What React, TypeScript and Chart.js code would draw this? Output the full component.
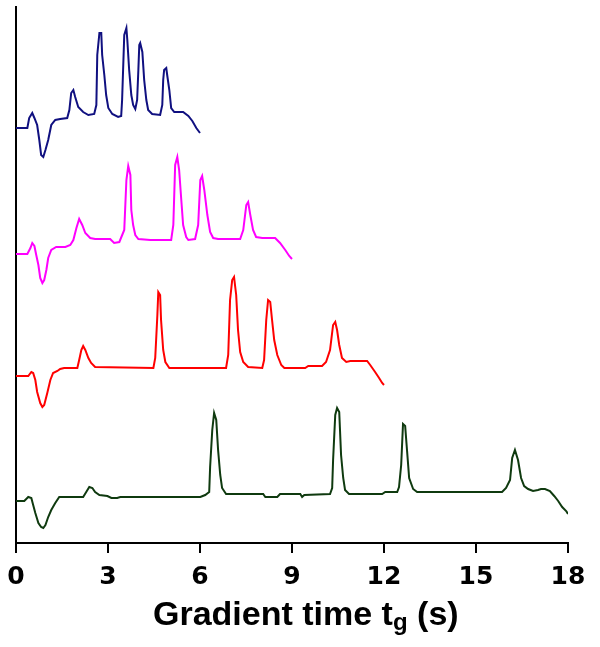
import React, { useEffect, useRef } from "react";
import { Chart, registerables } from "chart.js";

Chart.register(...registerables);

// Gradient time (s) and detector signal (arbitrary units, relative to each trace's baseline)
const timeA = [0, 0.37, 0.43, 0.53, 0.60, 0.69, 0.76, 0.82, 0.89, 0.96, 1.05, 1.15, 1.28, 1.44, 1.67, 1.74, 1.80, 1.87, 1.93, 2.03, 2.19, 2.36, 2.55, 2.62, 2.65, 2.72, 2.78, 2.81, 2.88, 2.94, 3.01, 3.14, 3.33, 3.43, 3.46, 3.53, 3.60, 3.63, 3.69, 3.76, 3.82, 3.89, 3.95, 3.99, 4.02, 4.05, 4.12, 4.18, 4.25, 4.31, 4.44, 4.70, 4.77, 4.80, 4.83, 4.90, 4.93, 5.00, 5.06, 5.16, 5.45, 5.62, 5.75, 5.88, 6.0];
const signalA = [0, 0, 10, 15, 10, 3, -12, -27, -29, -22, -12, 3, 8, 9, 10, 18, 35, 38, 31, 21, 16, 13, 14, 23, 73, 95, 95, 73, 53, 33, 20, 14, 11, 12, 28, 93, 100, 88, 58, 33, 23, 19, 28, 58, 83, 85, 76, 48, 28, 18, 14, 13, 23, 48, 58, 60, 53, 38, 20, 16, 16, 12, 7, 0, -5];

const timeB = [0, 0.37, 0.47, 0.53, 0.60, 0.66, 0.73, 0.79, 0.86, 0.92, 0.99, 1.05, 1.15, 1.31, 1.61, 1.77, 1.87, 1.97, 2.06, 2.16, 2.26, 2.42, 2.58, 3.07, 3.20, 3.37, 3.53, 3.60, 3.66, 3.73, 3.76, 3.82, 3.89, 3.99, 4.38, 5.06, 5.13, 5.19, 5.26, 5.32, 5.39, 5.45, 5.55, 5.62, 5.84, 5.94, 6.01, 6.07, 6.14, 6.24, 6.33, 6.43, 6.59, 7.31, 7.41, 7.51, 7.57, 7.64, 7.73, 7.83, 8.03, 8.45, 8.61, 8.78, 8.91, 9.0];
const signalB = [0, 0, 6, 11, 8, -1, -11, -24, -29, -26, -16, -4, 4, 7, 7, 9, 14, 26, 35, 29, 21, 16, 15, 15, 11, 12, 24, 74, 88, 79, 44, 29, 19, 15, 14, 14, 29, 89, 97, 84, 54, 29, 17, 14, 15, 29, 74, 78, 64, 39, 22, 16, 15, 15, 24, 49, 52, 39, 24, 17, 16, 16, 11, 4, -2, -5];

const timeC = [0, 0.40, 0.50, 0.56, 0.63, 0.69, 0.79, 0.86, 0.92, 1.02, 1.12, 1.21, 1.35, 1.44, 1.57, 2.00, 2.06, 2.13, 2.19, 2.26, 2.36, 2.45, 2.58, 4.48, 4.54, 4.61, 4.64, 4.70, 4.73, 4.80, 4.87, 5.00, 6.85, 6.92, 6.98, 7.05, 7.11, 7.18, 7.24, 7.31, 7.41, 7.57, 8.03, 8.09, 8.16, 8.22, 8.29, 8.35, 8.42, 8.52, 8.65, 8.75, 9.43, 9.53, 9.98, 10.11, 10.24, 10.34, 10.41, 10.47, 10.54, 10.63, 10.77, 10.90, 11.45, 11.55, 11.71, 11.84, 11.94, 12.0];
const signalC = [0, 0, 4, 3, -4, -16, -27, -31, -29, -17, -4, 3, 5, 7, 8, 8, 16, 26, 30, 26, 18, 13, 9, 8, 18, 61, 84, 81, 56, 26, 14, 8, 8, 21, 76, 96, 99, 81, 46, 24, 14, 9, 8, 16, 56, 76, 74, 56, 36, 21, 11, 8, 8, 10, 10, 14, 26, 51, 54, 46, 31, 18, 14, 15, 15, 11, 4, -2, -7, -9];

const timeD = [0, 0.27, 0.40, 0.50, 0.56, 0.63, 0.73, 0.82, 0.89, 0.96, 1.05, 1.15, 1.28, 1.41, 1.54, 2.19, 2.29, 2.39, 2.49, 2.58, 2.72, 2.98, 3.11, 3.30, 3.40, 6.01, 6.17, 6.30, 6.33, 6.40, 6.46, 6.53, 6.59, 6.66, 6.72, 6.85, 7.05, 8.06, 8.13, 8.52, 8.61, 9.27, 9.33, 9.40, 10.24, 10.31, 10.34, 10.41, 10.47, 10.54, 10.60, 10.67, 10.73, 10.86, 11.94, 12.04, 12.43, 12.49, 12.56, 12.62, 12.69, 12.75, 12.82, 12.95, 13.08, 15.85, 15.98, 16.11, 16.18, 16.27, 16.37, 16.47, 16.57, 16.70, 16.86, 17.02, 17.12, 17.25, 17.41, 17.55, 17.68, 17.81, 17.94, 18.0];
const signalD = [0, 0, 4, 3, -4, -12, -22, -26, -27, -24, -16, -9, -2, 4, 4, 4, 9, 14, 13, 9, 6, 5, 3, 3, 4, 4, 6, 9, 34, 71, 88, 81, 51, 26, 13, 7, 7, 7, 4, 4, 7, 7, 4, 6, 7, 13, 41, 86, 93, 89, 46, 23, 11, 7, 7, 9, 9, 14, 36, 77, 75, 51, 23, 12, 9, 9, 13, 21, 43, 51, 41, 23, 15, 12, 10, 11, 12, 12, 10, 5, 0, -6, -10, -13];

const traceOffsets = [415, 289, 167, 42];
const traceColors = ["#101080", "#ff00ff", "#ff0000", "#0f3a0f"];
const xTicks = [0, 3, 6, 9, 12, 15, 18];

const traces = [
  { t: timeA, s: signalA },
  { t: timeB, s: signalB },
  { t: timeC, s: signalC },
  { t: timeD, s: signalD },
];

export default function App() {
  const canvasRef = useRef<HTMLCanvasElement | null>(null);

  useEffect(() => {
    if (!canvasRef.current) return;
    const datasets = traces.map((tr, k) => ({
      label: "trace " + (k + 1),
      data: tr.t.map((t, i) => ({ x: t, y: tr.s[i] + traceOffsets[k] })),
      borderColor: traceColors[k],
      backgroundColor: traceColors[k],
      borderWidth: 2,
      pointRadius: 0,
      tension: 0,
      fill: false,
    }));
    const chart = new Chart(canvasRef.current, {
      type: "line",
      data: { datasets },
      options: {
        responsive: false,
        animation: false,
        devicePixelRatio: 1,
        layout: { padding: { left: 16, right: 32, top: 7, bottom: 46 } },
        plugins: { legend: { display: false }, tooltip: { enabled: false }, title: { display: false } },
        scales: {
          x: {
            type: "linear",
            min: 0,
            max: 18,
            afterBuildTicks: (scale: any) => {
              scale.ticks = xTicks.map((v) => ({ value: v }));
            },
            grid: { display: true, drawOnChartArea: false, drawTicks: true, tickLength: 10, color: "#000", lineWidth: 2 },
            border: { display: true, color: "#000", width: 2 },
            ticks: {
              color: "#000",
              padding: 3,
              maxRotation: 0,
              autoSkip: false,
              font: { family: "'DejaVu Sans', sans-serif", size: 25, weight: "bold", lineHeight: 1.68 },
            },
          },
          y: {
            type: "linear",
            min: 0,
            max: 536,
            grid: { display: false, drawTicks: false, tickLength: 0 },
            border: { display: true, color: "#000", width: 2 },
            ticks: { display: false },
          },
        },
      },
    });
    return () => chart.destroy();
  }, []);

  return (
    <div style={{ position: "absolute", left: 0, top: 0, width: 600, height: 647, background: "#fff" }}>
      <canvas ref={canvasRef} width={600} height={647} style={{ display: "block", width: 600, height: 647 }} />
      <div
        style={{
          position: "absolute",
          left: 153,
          top: 596,
          whiteSpace: "nowrap",
          fontFamily: "'Liberation Sans', Arial, sans-serif",
          fontWeight: "bold",
          fontSize: 34,
          lineHeight: "34px",
          color: "#000",
        }}
      >
        Gradient time t<span style={{ fontSize: 24, position: "relative", top: 5 }}>g</span> (s)
      </div>
    </div>
  );
}
